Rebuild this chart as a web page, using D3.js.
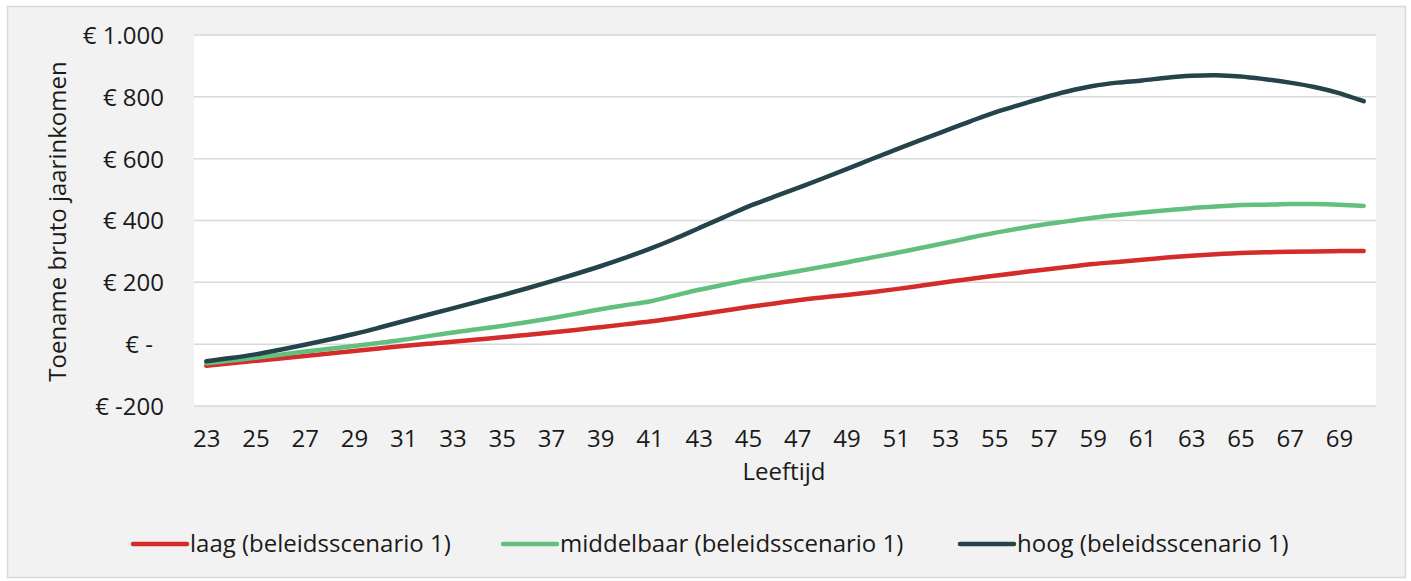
<!DOCTYPE html>
<html>
<head>
<meta charset="utf-8">
<script src="https://cdn.jsdelivr.net/npm/d3@7"></script>
<style>
  html, body { margin: 0; padding: 0; background: #ffffff; }
  svg text { font-family: "Open Sans", "Noto Sans", sans-serif; fill: #1a1a1a; }
</style>
</head>
<body>
<svg id="chart" width="1411" height="581"></svg>
<script>
// Leeftijden (x-as)
const ages = d3.range(23, 71);
const xTickAges = d3.range(23, 70, 2);
const yTicks = [-200, 0, 200, 400, 600, 800, 1000];

// Toename bruto jaarinkomen per leeftijd (euro)
const laag = [
  -70, -62, -54, -46, -38, -30, -22, -14, -6, 1, 8, 15, 22, 30, 38, 46, 55, 64, 73, 84,
  96, 108, 120, 131, 142, 151, 159, 168, 178, 189, 200, 211, 221, 231, 241, 250, 259, 266, 273, 280,
  286, 291, 295, 297, 299, 300, 301, 301
];
const middelbaar = [
  -62, -53, -44, -34, -24, -15, -6, 4, 14, 26, 38, 48, 59, 71, 84, 98, 113, 126, 138, 157,
  176, 192, 208, 222, 236, 250, 264, 280, 295, 311, 327, 344, 360, 374, 387, 398, 409, 418, 426, 433,
  440, 445, 450, 451, 453, 453, 451, 447
];
const hoog = [
  -55, -45, -33, -18, -2, 15, 33, 53, 74, 95, 116, 137, 158, 180, 203, 227, 252, 279, 308, 340,
  375, 410, 445, 475, 505, 535, 566, 598, 629, 660, 690, 720, 749, 773, 797, 818, 835, 846, 853, 862,
  868, 870, 866, 857, 846, 832, 812, 786
];

const seriesNames = ["laag (beleidsscenario 1)", "middelbaar (beleidsscenario 1)", "hoog (beleidsscenario 1)"];
const seriesColors = ["#d42b2b", "#62bf7e", "#24434a"];
const seriesValues = [laag, middelbaar, hoog];

const svg = d3.select("#chart");

// chart background and border
svg.append("rect")
  .attr("x", 7.5).attr("y", 6.5).attr("width", 1398).attr("height", 571)
  .attr("fill", "#f2f2f2").attr("stroke", "#d9d9d9").attr("stroke-width", 1.5);

const plot = { left: 194, right: 1376, top: 35, bottom: 406 };

svg.append("rect")
  .attr("x", plot.left).attr("y", plot.top)
  .attr("width", plot.right - plot.left).attr("height", plot.bottom - plot.top)
  .attr("fill", "#ffffff");

const x = d3.scalePoint().domain(ages).range([plot.left, plot.right]).padding(0.5);
const y = d3.scaleLinear().domain([-200, 1000]).range([plot.bottom, plot.top]);

const nl = d3.formatLocale({ decimal: ",", thousands: ".", grouping: [3], currency: ["€ ", ""] });
const fmt = nl.format(",.0f");
const yLabel = v => v === 0 ? "€ -" : "€ " + fmt(v).replace("−", "-");

// horizontal gridlines
svg.append("g").selectAll("line").data(yTicks).join("line")
  .attr("x1", plot.left).attr("x2", plot.right)
  .attr("y1", d => y(d)).attr("y2", d => y(d))
  .attr("stroke", "#d9d9d9").attr("stroke-width", 1.5);

const fs = "24px";

// y axis
const yAxis = svg.append("g")
  .attr("transform", `translate(${plot.left - 30},0)`)
  .call(d3.axisLeft(y).tickValues(yTicks).tickFormat(yLabel).tickSize(0).tickPadding(0));
yAxis.select(".domain").remove();
yAxis.selectAll("text")
  .style("font-size", fs)
  .attr("dy", "0.35em")
  .attr("dx", d => d === 0 ? -11 : 0);

// x axis
const xAxis = svg.append("g")
  .attr("transform", `translate(0,${plot.bottom})`)
  .call(d3.axisBottom(x).tickValues(xTickAges).tickSize(0).tickPadding(0));
xAxis.select(".domain").remove();
xAxis.selectAll("text")
  .style("font-size", fs)
  .attr("y", 41).attr("dy", 0);

// axis titles
svg.append("text")
  .attr("transform", `translate(66,${(plot.top + plot.bottom) / 2 + 1}) rotate(-90)`)
  .attr("text-anchor", "middle")
  .style("font-size", fs)
  .text("Toename bruto jaarinkomen");

svg.append("text")
  .attr("x", 784).attr("y", 480)
  .attr("text-anchor", "middle")
  .style("font-size", fs)
  .text("Leeftijd");

// lines
const line = d3.line()
  .x((d, i) => x(ages[i]))
  .y(d => y(d))
  .curve(d3.curveCatmullRom.alpha(0.5));

svg.append("g").selectAll("path").data(seriesValues).join("path")
  .attr("d", d => line(d))
  .attr("fill", "none")
  .attr("stroke", (d, i) => seriesColors[i])
  .attr("stroke-width", 4.5)
  .attr("stroke-linecap", "round")
  .attr("stroke-linejoin", "round");

// legend
const legendX = [133, 503, 960];
const legend = svg.append("g").selectAll("g").data(seriesNames).join("g")
  .attr("transform", (d, i) => `translate(${legendX[i]},544)`);
legend.append("line")
  .attr("x1", 0).attr("x2", 54).attr("y1", 0).attr("y2", 0)
  .attr("stroke", (d, i) => seriesColors[i])
  .attr("stroke-width", 4.5)
  .attr("stroke-linecap", "round");
legend.append("text")
  .attr("x", 57).attr("y", 0).attr("dy", "0.35em")
  .style("font-size", fs)
  .text(d => d);
</script>
</body>
</html>
